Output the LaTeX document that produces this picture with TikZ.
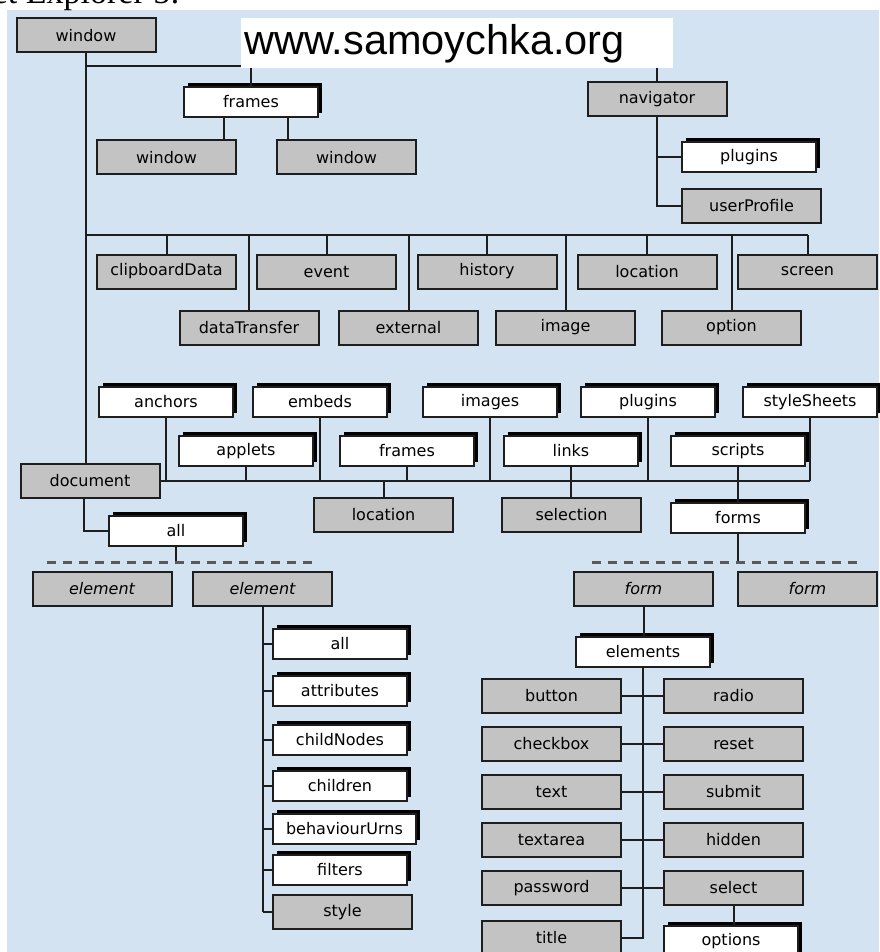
\documentclass[tikz,border=0pt]{standalone}
\usepackage{fontspec}
\setmainfont{DejaVu Sans}
\newfontfamily\wmfont{Liberation Sans}
\newfontfamily\hdfont{Liberation Serif}
\usetikzlibrary{shadows}
\definecolor{bgblue}{RGB}{212,227,242}
\definecolor{boxgray}{RGB}{195,195,195}
\definecolor{linec}{RGB}{30,30,30}
\begin{document}
\begin{tikzpicture}[x=1pt,y=-1pt,
 base/.style={draw=linec, line width=2pt, inner sep=0pt, font=\fontsize{16}{18}\selectfont, text=black},
 gbox/.style={base, fill=boxgray, minimum width=139pt, minimum height=34pt},
 wbox/.style={base, fill=white, minimum width=134pt, minimum height=30pt,
   drop shadow={shadow xshift=4pt, shadow yshift=4pt, fill=black, opacity=1}},
 conn/.style={draw=linec, line width=2pt},
 dashline/.style={draw=black!65, line width=3pt, dash pattern=on 9pt off 7pt}
]
\useasboundingbox (0,0) rectangle (879,952);
\fill[white] (0,0) rectangle (879,952);
\fill[bgblue] (7,10) rectangle (879,952);
\node[font=\hdfont\fontsize{34}{34}\selectfont, anchor=base east, inner sep=0pt] (hd) at (180,4) {Internet Explorer 5:};

% top part
\node[gbox] (win) at (86,35.5) {window};
\node[wbox] (fr1) at (251,102) {frames};
\node[gbox] (wl) at (166.5,157.5) {window};
\node[gbox] (wr) at (346.5,157.5) {window};
\node[gbox] (nav) at (657,99.5) {navigator};
\node[wbox] (plug1) at (749,157.5) {plugins};
\node[gbox] (uprof) at (751.5,206) {userProfile};

% row 1
\node[gbox] (clip) at (166.5,271.5) {clipboardData};
\node[gbox] (event) at (326.5,271.5) {event};
\node[gbox] (hist) at (487,271.5) {history};
\node[gbox] (loc1) at (647,271.5) {location};
\node[gbox] (screen) at (807.5,271.5) {screen};
% row 2
\node[gbox] (dt) at (249,327.5) {dataTransfer};
\node[gbox] (ext) at (408.5,327.5) {external};
\node[gbox] (img) at (565.5,327.5) {image};
\node[gbox] (opt) at (731.5,327.5) {option};
% row 3
\node[wbox] (anchors) at (166,402) {anchors};
\node[wbox] (embeds) at (320,402) {embeds};
\node[wbox] (images) at (490,402) {images};
\node[wbox] (plug2) at (648,402) {plugins};
\node[wbox] (ss) at (810,402) {styleSheets};
% row 4
\node[wbox] (applets) at (246,451) {applets};
\node[wbox] (fr2) at (407,451) {frames};
\node[wbox] (links) at (571,451) {links};
\node[wbox] (scripts) at (738,451) {scripts};
% document
\node[gbox] (doc) at (90,480.5) {document};
\node[gbox] (loc2) at (383.5,514.5) {location};
\node[gbox] (sel) at (571.5,514.5) {selection};
\node[wbox] (forms) at (738,517.5) {forms};
\node[wbox] (all1) at (176,530.5) {all};

% element side
\node[gbox, font=\fontsize{16}{18}\selectfont\itshape] (elL) at (102,588.5) {element};
\node[gbox, font=\fontsize{16}{18}\selectfont\itshape] (elR) at (262.5,588.5) {element};
\node[wbox] (all2) at (340,644) {all};
\node[wbox] (attr) at (340,690.5) {attributes};
\node[wbox] (cn) at (340,739.5) {childNodes};
\node[wbox] (ch) at (340,786) {children};
\node[wbox, minimum width=143pt] (bu) at (344.5,828.5) {behaviourUrns};
\node[wbox] (filt) at (340,870) {filters};
\node[gbox] (style) at (342.5,912) {style};

% form side
\node[gbox, font=\fontsize{16}{18}\selectfont\itshape] (formL) at (643.5,588.5) {form};
\node[gbox, font=\fontsize{16}{18}\selectfont\itshape] (formR) at (807.5,588.5) {form};
\node[wbox] (elems) at (643,651.5) {elements};
\node[gbox] (button) at (551.5,696) {button};
\node[gbox] (checkbox) at (551.5,744) {checkbox};
\node[gbox] (text) at (551.5,792) {text};
\node[gbox] (textarea) at (551.5,840) {textarea};
\node[gbox] (password) at (551.5,888) {password};
\node[gbox] (title) at (551.5,938) {title};
\node[gbox] (radio) at (733.5,696) {radio};
\node[gbox] (reset) at (733.5,744) {reset};
\node[gbox] (submit) at (733.5,792) {submit};
\node[gbox] (hidden) at (733.5,840) {hidden};
\node[gbox] (select) at (733.5,888) {select};
\node[wbox] (options) at (731,941) {options};

% connectors
\coordinate (j1) at (86,66);
\coordinate (m) at (86,235);
\coordinate (fa) at (224,118);
\coordinate (fb) at (288,118);
\draw[conn] (win.south) -- (win.south |- doc.north);
\draw[conn] (j1) -- (nav.north |- j1) -- (nav.north);
\draw[conn] (fr1.north |- j1) -- (fr1.north);
\draw[conn] (fa) -- (fa |- wl.north);
\draw[conn] (fb) -- (fb |- wr.north);
\draw[conn] (nav.south) |- (uprof.west);
\draw[conn] (nav.south |- plug1.west) -- (plug1.west);

\draw[conn] (m) -- (screen.north |- m);
\foreach \n in {clip,event,hist,loc1,screen,dt,ext,img,opt}
  \draw[conn] (\n.north |- m) -- (\n.north);

\draw[conn] (doc.east) -- (ss.south |- doc.east);
\foreach \n in {anchors,applets,embeds,fr2,images,plug2,ss}
  \draw[conn] (\n.south) -- (\n.south |- doc.east);
\draw[conn] (links.south) -- (links.south |- sel.north);
\draw[conn] (scripts.south) -- (scripts.south |- forms.north);
\draw[conn] (loc2.north |- doc.east) -- (loc2.north);
\draw[conn] ([xshift=-6pt]doc.south) |- (all1.west);

\coordinate (dl1) at (47,562);
\coordinate (dr1) at (312,562);
\coordinate (dl2) at (592,562);
\coordinate (dr2) at (857,562);
\draw[conn] (all1.south) -- (all1.south |- dl1);
\draw[dashline] (dl1) -- (dr1);
\draw[conn] (forms.south) -- (forms.south |- dl2);
\draw[dashline] (dl2) -- (dr2);

\draw[conn] (elR.south) -- (elR.south |- style.west);
\foreach \n in {all2,attr,cn,ch,bu,filt,style}
  \draw[conn] (elR.south |- \n.west) -- (\n.west);

\draw[conn] (formL.south) -- (formL.south |- elems.north);
\draw[conn] (elems.south) -- (elems.south |- title.east) -- (title.east);
\draw[conn] (button.east) -- (radio.west);
\draw[conn] (checkbox.east) -- (reset.west);
\draw[conn] (text.east) -- (submit.west);
\draw[conn] (textarea.east) -- (hidden.west);
\draw[conn] (password.east) -- (select.west);
\draw[conn] (select.south) -- (select.south |- options.north);

% watermark
\node[fill=white, inner sep=0pt, minimum width=432pt, minimum height=50pt, anchor=north west] (wm) at (241,18) {};
\node[font=\wmfont\fontsize{41.5}{42}\selectfont, anchor=base west, inner sep=0pt] (wmt) at (244,55) {www.samoychka.org};
\end{tikzpicture}
\end{document}
